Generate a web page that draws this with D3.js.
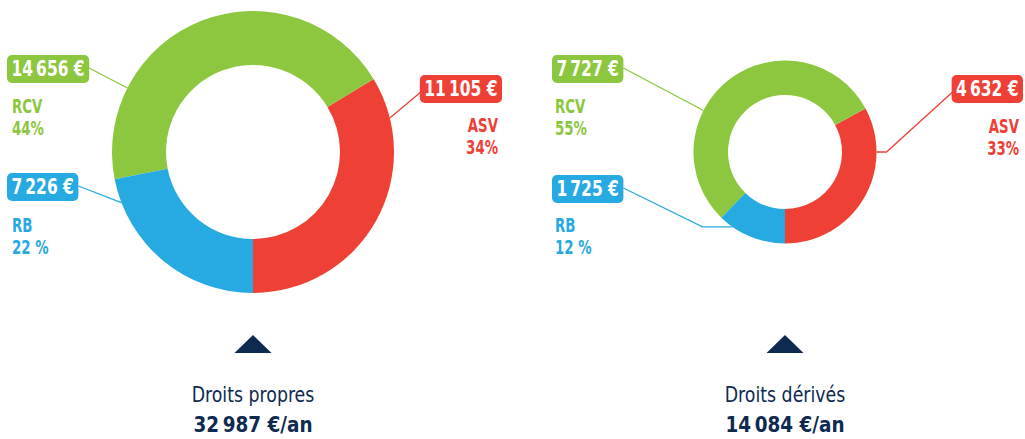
<!DOCTYPE html>
<html>
<head>
<meta charset="utf-8">
<script src="https://cdn.jsdelivr.net/npm/d3@7"></script>
<style>
  body { margin: 0; background: #fff; }
  svg { display: block; }
  text { font-family: 'DejaVu Sans Condensed', 'Liberation Sans Narrow', sans-serif; }
</style>
</head>
<body>
<svg id="graph" width="1025" height="439"></svg>
<script>
(function() {

// data
const categories = ['ASV', 'RCV', 'RB'];
const droitsPropres = [11105, 14656, 7226];
const droitsDerives = [4632, 7727, 1725];
const pctPropres = ['34%', '44%', '22 %'];
const pctDerives = ['33%', '55%', '12 %'];
const titles = ['Droits propres', 'Droits dérivés'];

const colors = ['#ef4036', '#8dc63f', '#27aae1'];
const navy = '#0e2a50';

const svg = d3.select('#graph');

const locale = d3.formatLocale({decimal: ',', thousands: '\u202f', grouping: [3], currency: ['', ' €']});
const fmt = locale.format(',d');

const color = d3.scaleOrdinal().domain(categories).range(colors);

// squeeze text horizontally (narrow font of the original), returns squeezed width
function squeeze(sel, x, f) {
  sel.attr('x', x / f).attr('transform', `scale(${f},1)`);
  return sel.node().getComputedTextLength() * f;
}

// layout per donut (positions only)
const charts = [
  {
    values: droitsPropres, pcts: pctPropres, title: titles[0],
    cx: 253, cy: 152, rOut: 141, rIn: 87,
    labels: [
      {side: 'right', bx: 502, by: 75, deg: 76, elbow: 0, tx: 498, ty: 132},
      {side: 'left', bx: 7, by: 55, deg: 297, elbow: 0, tx: 12, ty: 113},
      {side: 'left', bx: 7, by: 173, deg: 249, elbow: 0, tx: 12, ty: 232}
    ]
  },
  {
    values: droitsDerives, pcts: pctDerives, title: titles[1],
    cx: 785, cy: 152, rOut: 91.5, rIn: 57,
    labels: [
      {side: 'right', bx: 1023, by: 75, deg: 90, elbow: 10, tx: 1019, ty: 133},
      {side: 'left', bx: 552, by: 55, deg: 297, elbow: 0, tx: 555, ty: 113},
      {side: 'left', bx: 552, by: 175, deg: 215, elbow: -30, tx: 555, ty: 232}
    ]
  }
];

const boxH = 28;

charts.forEach(c => {
  const data = categories.map((k, i) => ({key: k, value: c.values[i], pct: c.pcts[i]}));

  const pie = d3.pie()
    .sort(null)
    .value(d => d.value)
    .startAngle(Math.PI)
    .endAngle(-Math.PI);

  const arc = d3.arc()
    .innerRadius(c.rIn)
    .outerRadius(c.rOut);

  const g = svg.append('g')
    .attr('transform', `translate(${c.cx},${c.cy})`);

  g.selectAll('path')
    .data(pie(data))
    .enter().append('path')
      .attr('d', arc)
      .attr('fill', d => color(d.data.key));

  // labels
  data.forEach((d, i) => {
    const L = c.labels[i];
    const col = color(d.key);
    const lg = svg.append('g');

    const f = 0.82;
    const t = lg.append('text')
      .attr('y', L.by + 21.5)
      .attr('fill', '#fff')
      .attr('font-weight', 'bold')
      .attr('font-size', 21)
      .text(fmt(d.value) + ' €');
    const tw = t.node().getComputedTextLength() * f;
    const bw = tw + 9;
    const x0 = L.side === 'left' ? L.bx : L.bx - bw;
    squeeze(t, x0 + 4.5, f);

    lg.insert('rect', 'text')
      .attr('x', x0)
      .attr('y', L.by)
      .attr('width', bw)
      .attr('height', boxH)
      .attr('rx', 5)
      .attr('fill', col);

    // leader
    const a = L.deg * Math.PI / 180;
    const ax = c.cx + c.rOut * Math.sin(a);
    const ay = c.cy - c.rOut * Math.cos(a);
    const pts = [];
    if (L.side === 'left') pts.push([x0 + bw, L.by + 13]);
    else pts.push([x0 + 1, L.by + 17]);
    if (L.elbow) pts.push([ax + L.elbow, ay]);
    pts.push([ax, ay]);

    svg.append('path')
      .attr('d', d3.line()(pts))
      .attr('fill', 'none')
      .attr('stroke', col)
      .attr('stroke-width', 1.3);

    const anchor = L.side === 'left' ? 'start' : 'end';
    [d.key, d.pct].forEach((s, j) => {
      const tt = svg.append('text')
        .attr('y', L.ty + j * 22)
        .attr('text-anchor', anchor)
        .attr('fill', col)
        .attr('font-weight', 'bold')
        .attr('font-size', 19)
        .text(s);
      squeeze(tt, L.tx, 0.78);
    });
  });

  // pointer + totals
  svg.append('path')
    .attr('d', `M${c.cx},335L${c.cx + 18.5},353L${c.cx - 18.5},353Z`)
    .attr('fill', navy);

  const t1 = svg.append('text')
    .attr('y', 402)
    .attr('text-anchor', 'middle')
    .attr('fill', navy)
    .attr('font-size', 21)
    .text(c.title);
  squeeze(t1, c.cx, 0.92);

  const t2 = svg.append('text')
    .attr('y', 432)
    .attr('text-anchor', 'middle')
    .attr('fill', navy)
    .attr('font-weight', 'bold')
    .attr('font-size', 22)
    .text(fmt(d3.sum(c.values)) + ' €/an');
  squeeze(t2, c.cx, 0.93);
});

})();
</script>
</body>
</html>
